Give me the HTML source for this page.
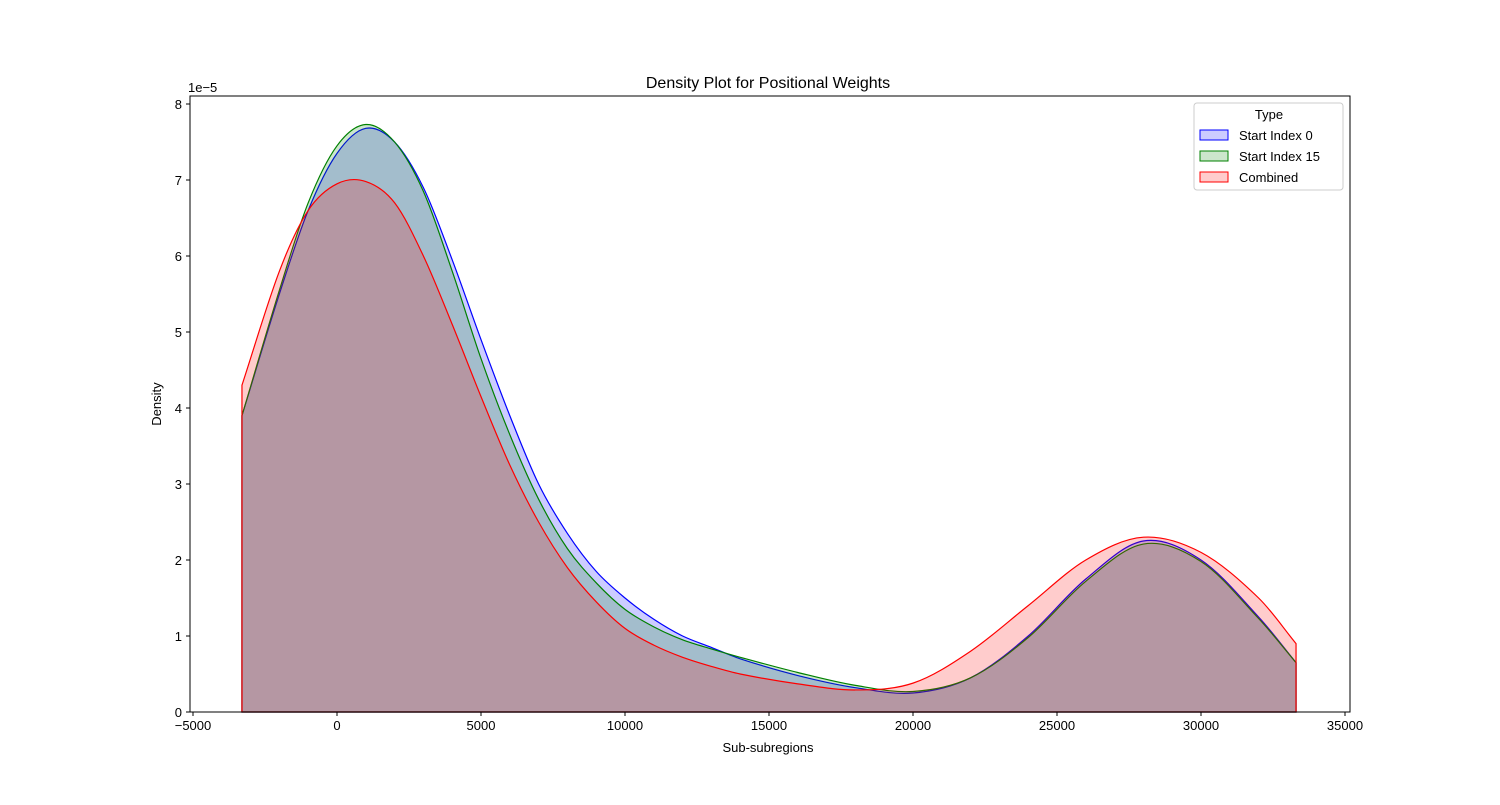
<!DOCTYPE html>
<html><head><meta charset="utf-8"><style>
body{margin:0;background:#fff;font-family:"Liberation Sans","DejaVu Sans",sans-serif}
svg text{font-family:"Liberation Sans","DejaVu Sans",sans-serif;fill:#000}
</style></head><body>
<svg id="chart" width="1500" height="800" xmlns="http://www.w3.org/2000/svg">
<rect width="1500" height="800" fill="#fff"/>
<g id="plot"></g>
<g id="axes"></g>
<text x="768" y="88" font-size="16" text-anchor="middle">Density Plot for Positional Weights</text>
<text x="768" y="752" font-size="13" text-anchor="middle">Sub-subregions</text>
<text x="161" y="404" font-size="13" text-anchor="middle" transform="rotate(-90 161 404)">Density</text>
<text x="188" y="92" font-size="13">1e−5</text>
<g>
<rect x="1194" y="103" width="149" height="87" rx="3" fill="#fff" stroke="#ccc"/>
<text x="1269" y="119" font-size="13" text-anchor="middle">Type</text>
<g><rect x="1200" y="130" width="28" height="10" fill="rgba(0,0,255,0.2)" stroke="#00f"/><text x="1239" y="140" font-size="13">Start Index 0</text></g>
<g><rect x="1200" y="151" width="28" height="10" fill="rgba(0,128,0,0.2)" stroke="#008000"/><text x="1239" y="161" font-size="13">Start Index 15</text></g>
<g><rect x="1200" y="172" width="28" height="10" fill="rgba(255,0,0,0.2)" stroke="#f00"/><text x="1239" y="182" font-size="13">Combined</text></g>
</g>
</svg>
<script>
const xTicks=[-5000,0,5000,10000,15000,20000,25000,30000,35000];
const yTicks=[0,1,2,3,4,5,6,7,8];
const xsGrid=[-3300,-2000,-1000,0,1000,2000,3000,4000,5000,6000,7000,8000,9000,10000,11000,12000,13000,14000,16000,18000,20000,22000,24000,26000,28000,30000,32000,33300];
const blueVals=[3.9,5.5,6.6,7.35,7.68,7.5,6.9,5.95,4.9,3.9,3.0,2.35,1.85,1.5,1.22,1.0,0.85,0.7,0.48,0.32,0.25,0.45,1.0,1.75,2.25,2.0,1.25,0.65];
const greenVals=[3.9,5.55,6.7,7.45,7.73,7.5,6.85,5.8,4.65,3.65,2.8,2.15,1.7,1.35,1.12,0.95,0.83,0.72,0.52,0.35,0.27,0.45,0.98,1.72,2.21,1.98,1.23,0.65];
const redVals=[4.3,5.8,6.6,6.95,6.98,6.7,6.0,5.1,4.15,3.25,2.5,1.9,1.45,1.1,0.88,0.72,0.6,0.5,0.37,0.29,0.38,0.8,1.4,2.0,2.3,2.1,1.5,0.9];
const X0=190,X1=1350,Y0=96,Y1=712;
const xs=v=>337+v*(481-337)/5000;
const ys=v=>712-v*76;
const NS="http://www.w3.org/2000/svg";
function mk(t,a,p){const e=document.createElementNS(NS,t);for(const k in a)e.setAttribute(k,a[k]);p.appendChild(e);return e;}
function pathD(xv,yv){
 const n=xv.length;
 const m=xv.map((x,i)=>{const a=Math.max(0,i-1),b=Math.min(n-1,i+1);return (yv[b]-yv[a])/(xv[b]-xv[a]);});
 let d=`M${xs(xv[0])},${ys(0)} L${xs(xv[0])},${ys(yv[0])}`;
 for(let i=0;i<n-1;i++){
  const h=xv[i+1]-xv[i];
  const c1x=xv[i]+h/3,c1y=yv[i]+m[i]*h/3,c2x=xv[i+1]-h/3,c2y=yv[i+1]-m[i+1]*h/3;
  d+=` C${xs(c1x)},${ys(c1y)} ${xs(c2x)},${ys(c2y)} ${xs(xv[i+1])},${ys(yv[i+1])}`;
 }
 d+=` L${xs(xv[n-1])},${ys(0)} Z`;return d;
}
const plot=document.getElementById('plot');
const series=[["blue",blueVals,"0,0,255"],["green",greenVals,"0,128,0"],["red",redVals,"255,0,0"]];
series.forEach(s=>{
 const p=mk('path',{d:pathD(xsGrid,s[1]),fill:`rgba(${s[2]},0.2)`,stroke:`rgb(${s[2]})`,'stroke-width':1.2},plot);
 
 
});
const ax=document.getElementById('axes');
mk('rect',{x:X0,y:Y0,width:X1-X0,height:Y1-Y0,fill:'none',stroke:'#000','stroke-width':1},ax);
xTicks.forEach(v=>{
 const x=xs(v);
 mk('line',{x1:x,x2:x,y1:Y1,y2:Y1+4,stroke:'#000'},ax);
 const t=mk('text',{x:x,y:Y1+18,'font-size':13,'text-anchor':'middle'},ax);
 t.textContent=v<0?'−'+(-v):String(v);
 
 
});
yTicks.forEach(v=>{
 const y=ys(v);
 mk('line',{x1:X0-4,x2:X0,y1:y,y2:y,stroke:'#000'},ax);
 const t=mk('text',{x:X0-8,y:y+5,'font-size':13,'text-anchor':'end'},ax);
 t.textContent=String(v);
 
 
});
</script>
</body></html>
